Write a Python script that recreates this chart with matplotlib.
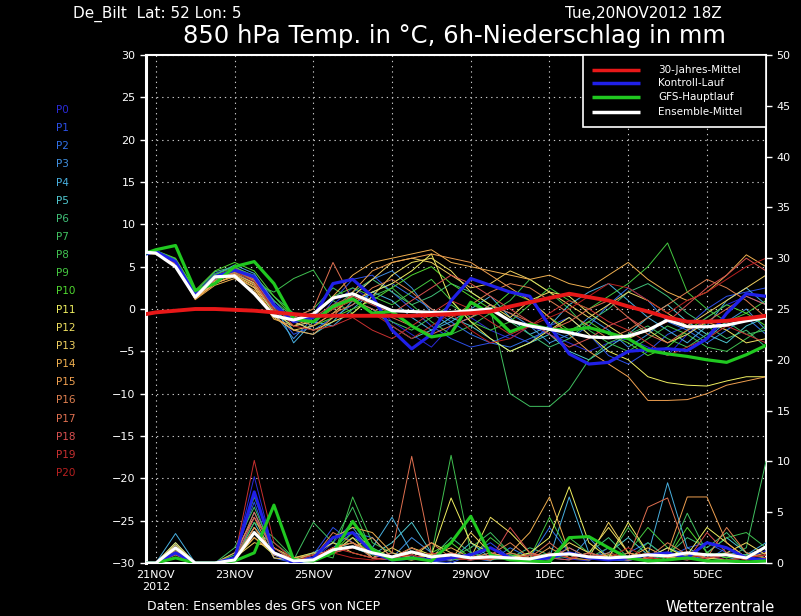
import matplotlib
matplotlib.use("Agg")
import matplotlib.pyplot as plt
from matplotlib.patches import Rectangle

# hours after 20NOV2012 18Z
hours = [0, 6, 18, 30, 42, 54, 66, 78, 90, 102, 114, 126, 138, 150, 162, 174, 186,
         198, 210, 222, 234, 246, 258, 270, 282, 294, 306, 318, 330, 342, 354, 366, 378]

date_hours = [6, 54, 102, 150, 198, 246, 294, 342]
date_labels = ["21NOV\n2012", "23NOV", "25NOV", "27NOV", "29NOV", "1DEC", "3DEC", "5DEC"]

member_names = ["P%d" % i for i in range(21)]
member_colors = ["#2a2ad8", "#2c50e8", "#3070e8", "#4090e0", "#48b0e0", "#50c8d0",
                 "#40c078", "#40c060", "#40c050", "#44c840", "#50d830", "#f0f060",
                 "#f0e060", "#f0d060", "#f0b050", "#f0a050", "#e08050", "#e07050",
                 "#d85050", "#c83030", "#b82020"]

# 850 hPa temperature of the members (deg C)
temp_p0 = [6.5, 6.8, 5.5, 1.5, 3.8, 4.5, 3.0, 0.5, -2.0, -1.5, 0.5, 2.5, 1.0, -1.5, -3.0, -4.5, -2.0, -1.0, -2.5, -3.5, -2.0, -3.0, -4.0, -5.0, -4.0, -3.5, -4.5, -5.5, -3.0, -1.0, 0.5, 1.5, 0.5]
temp_p1 = [6.5, 6.9, 5.8, 1.8, 4.2, 5.0, 3.5, 0.0, -3.0, -2.0, 1.0, 3.5, 4.0, 2.0, 0.0, -2.0, -3.5, -4.5, -4.0, -3.0, -4.0, -2.0, -1.0, -3.0, -5.5, -6.5, -5.0, -3.0, -2.0, 0.0, 1.5, 2.0, 2.5]
temp_p2 = [6.5, 6.7, 5.6, 1.6, 3.5, 4.8, 4.0, 1.0, -1.5, -2.5, -1.0, 0.5, 2.0, 3.0, 1.5, 0.0, -1.5, -3.0, -4.0, -4.5, -3.5, -2.5, -3.5, -2.0, 0.5, 2.5, 1.0, -1.5, -2.5, -4.0, -2.5, -1.0, -3.0]
temp_p3 = [6.5, 6.6, 5.4, 1.4, 3.2, 4.6, 3.2, -0.5, -3.5, -1.0, 0.0, 1.5, 3.5, 4.5, 2.5, -0.5, -2.0, -1.0, 0.5, -0.5, -2.0, -4.0, -3.0, -1.0, -2.5, -4.5, -3.0, -1.0, -2.0, -3.5, -1.5, 0.0, -2.5]
temp_p4 = [6.5, 6.8, 5.7, 1.7, 4.0, 5.2, 4.2, 0.8, -4.0, -1.5, -2.0, 0.0, 2.0, 1.0, -1.0, -2.5, -1.5, 0.0, 1.5, -1.0, -3.0, -2.0, 0.5, 2.0, 3.0, 1.0, -1.0, -2.5, -4.0, -2.0, 1.0, 2.5, 0.5]
temp_p5 = [6.5, 6.7, 5.5, 1.5, 3.6, 4.4, 3.6, 0.2, -2.5, -3.0, -1.5, 1.0, 0.0, -2.0, -3.5, -2.5, -1.0, -2.0, -3.5, -5.0, -4.0, -3.0, -5.0, -6.0, -4.5, -3.0, -1.0, 0.5, -1.5, -3.0, -4.0, -2.0, -1.0]
temp_p6 = [6.5, 6.9, 5.9, 2.0, 4.4, 5.0, 3.8, 1.5, -0.5, -1.0, 0.0, 2.0, 3.5, 2.0, 0.5, 1.5, 3.0, 2.0, 0.5, -1.5, -3.0, -4.5, -3.5, -1.5, 0.0, 2.0, 3.0, 1.5, -0.5, -2.0, -3.5, -2.5, -4.5]
temp_p7 = [6.5, 6.8, 5.6, 1.6, 3.9, 4.7, 3.3, 1.0, -1.0, 0.0, 2.5, 1.0, -0.5, -1.5, -2.5, -1.0, 0.5, -1.0, 0.0, -10.0, -11.5, -11.5, -9.5, -6.0, -4.0, -3.0, -2.0, -3.5, -4.5, -3.0, -1.5, -3.0, -2.5]
temp_p8 = [6.5, 6.7, 5.5, 1.5, 3.4, 4.3, 3.0, 2.0, 3.6, 4.6, 1.0, -0.5, 1.5, 2.5, 0.5, -1.5, -3.0, -2.0, -0.5, 1.0, 3.5, 2.0, 0.0, -2.5, -4.0, -5.0, -3.5, -2.0, -3.0, -4.5, -5.0, -3.5, -2.0]
temp_p9 = [6.5, 6.8, 5.7, 1.8, 4.1, 4.9, 3.9, 0.5, -1.5, -0.5, 1.5, 2.5, 1.5, 0.5, 2.0, 3.5, 1.0, -1.5, -2.5, -1.5, 0.5, 2.5, 1.0, 0.0, 1.5, 3.0, 5.0, 7.8, 2.0, 0.0, -1.5, -0.5, 1.0]
temp_p10 = [6.5, 6.9, 6.0, 2.2, 4.5, 5.5, 4.5, 1.5, -1.0, -2.0, -1.0, 0.0, 1.0, 2.5, 4.0, 5.0, 3.0, 1.5, 0.0, 2.0, 1.0, -1.0, -2.5, -1.5, -3.0, -4.0, -5.5, -4.5, -2.5, -1.0, 0.5, -0.5, -2.0]
temp_p11 = [6.5, 6.6, 5.3, 1.3, 3.0, 4.0, 2.8, -0.5, -2.0, -1.5, 0.0, 1.0, 2.0, 3.0, 4.5, 6.5, 1.0, -1.5, -3.5, -5.0, -4.0, -2.5, -1.0, -3.0, -5.0, -6.0, -8.0, -8.7, -9.0, -9.1, -8.5, -8.0, -8.0]
temp_p12 = [6.5, 6.7, 5.6, 1.4, 3.3, 4.1, 3.1, 0.0, -1.5, -2.5, -1.5, -0.5, 1.5, 4.0, 5.5, 6.0, 4.5, 2.0, 0.5, -1.0, 1.0, 2.0, 1.5, -0.5, -2.0, -3.5, -2.5, -4.0, -3.0, -1.5, -2.5, -4.0, -3.5]
temp_p13 = [6.5, 6.6, 5.4, 1.2, 3.1, 3.8, 2.5, -1.0, -2.5, -2.0, -0.5, 1.5, 3.5, 5.5, 6.0, 5.5, 4.0, 2.5, 3.0, 4.5, 3.5, 2.0, 0.5, -1.0, 0.5, 2.0, 1.0, -0.5, -2.0, -0.5, 1.0, 2.5, 4.0]
temp_p14 = [6.5, 6.5, 5.2, 1.1, 2.8, 3.6, 2.2, -1.2, -2.0, -1.0, 1.5, 4.0, 5.5, 6.0, 6.5, 7.0, 5.5, 5.0, 4.5, 4.0, 3.5, 4.0, 3.0, 2.5, 4.0, 5.5, 3.5, 2.0, 1.0, 2.0, 4.0, 6.4, 5.0]
temp_p15 = [6.5, 6.6, 5.3, 1.2, 3.0, 3.9, 2.6, -0.8, -2.5, -3.0, -1.0, 2.0, 4.5, 5.5, 6.0, 6.5, 6.0, 5.5, 4.0, 2.5, 1.0, -1.0, -3.0, -5.0, -6.5, -8.0, -10.8, -10.8, -10.7, -10.0, -9.0, -8.5, -8.0]
temp_p16 = [6.5, 6.7, 5.5, 1.5, 3.7, 4.3, 3.4, 0.3, -1.0, -2.0, -0.5, 0.5, 2.5, 3.5, 2.0, 0.0, -1.0, 0.5, 2.0, 3.0, 2.5, 1.0, -0.5, -2.0, -3.5, -2.5, -1.0, 0.5, 2.0, 3.5, 2.5, 1.0, -1.0]
temp_p17 = [6.5, 6.6, 5.4, 1.3, 3.4, 4.2, 2.9, -0.2, -1.0, 0.0, 5.5, 1.0, 0.0, -1.0, -2.0, -3.0, -2.0, -1.0, 0.5, -0.5, -1.5, -2.5, -1.5, 0.0, 1.0, -1.0, -3.0, -4.0, -2.5, -1.5, 0.0, 1.5, 0.5]
temp_p18 = [6.5, 6.7, 5.6, 1.6, 3.8, 4.6, 3.5, 0.6, -1.5, -1.0, 0.5, 1.5, 0.5, -0.5, 1.0, 2.5, 4.0, 3.0, 1.5, 0.0, -1.5, -3.0, -4.5, -3.5, -2.0, -1.0, -2.5, -1.5, 0.5, 2.5, 4.0, 6.0, 4.5]
temp_p19 = [6.5, 6.8, 5.7, 1.7, 3.9, 4.8, 3.7, 0.4, -2.0, -2.5, -2.0, -1.0, -2.5, -3.5, -2.0, -0.5, 1.0, 0.0, -1.5, -3.0, -2.0, -0.5, 1.0, 0.0, -1.5, -2.5, -4.0, -5.5, -4.5, -3.5, -2.0, -3.0, -4.0]
temp_p20 = [6.5, 6.7, 5.5, 1.5, 3.6, 4.5, 3.2, 0.0, -1.2, -1.5, 0.0, 1.0, -0.5, -2.0, -3.5, -2.0, -0.5, -2.5, -4.0, -3.5, -2.0, -1.0, 0.0, 1.5, 3.0, 2.5, 1.0, -0.5, 1.0, 2.0, 3.5, 5.0, 6.0]

# 6h precipitation of the members (mm)
prec_p0 = [0, 0, 1.2, 0, 0, 0.5, 8.5, 1.0, 0, 0.3, 2.0, 4.0, 1.5, 0.5, 0.8, 0.3, 0.2, 1.0, 0.5, 0.3, 0.5, 1.0, 0.4, 0.2, 1.5, 0.5, 0.3, 1.0, 0.5, 0.8, 0.3, 0.5, 1.2]
prec_p1 = [0, 0, 1.5, 0, 0, 0.8, 6.0, 0.5, 0, 0.8, 3.5, 2.0, 0.5, 1.0, 0.5, 0.2, 0, 0.8, 2.0, 0.5, 0.2, 0.5, 1.5, 0.5, 0.3, 0.2, 0.8, 0.5, 1.5, 2.0, 1.0, 0.5, 0.8]
prec_p2 = [0, 0, 2.0, 0, 0, 0.3, 4.5, 1.5, 0.2, 0.5, 1.5, 3.0, 2.5, 0.5, 1.0, 0.5, 0.3, 0.5, 0.2, 1.5, 0.5, 3.5, 1.0, 0.5, 0.3, 1.0, 2.0, 0.5, 0.8, 0.3, 1.5, 0.5, 0.3]
prec_p3 = [0, 0, 1.8, 0, 0, 0.5, 5.0, 0.8, 0, 0.2, 2.5, 3.5, 1.0, 0.5, 2.5, 1.0, 0.5, 0.3, 1.5, 0.5, 0.8, 0.5, 0.3, 2.5, 0.5, 0.3, 0.5, 1.5, 0.8, 0.5, 0.3, 0.8, 1.5]
prec_p4 = [0, 0, 2.9, 0, 0, 0.5, 3.5, 1.0, 0.3, 0.5, 1.0, 2.5, 1.5, 4.5, 1.0, 0.5, 0.3, 2.0, 0.5, 0.3, 1.0, 0.5, 6.5, 1.0, 0.5, 0.3, 0.8, 7.9, 1.5, 0.5, 1.0, 0.8, 2.0]
prec_p5 = [0, 0, 1.5, 0, 0, 0.3, 4.0, 0.5, 0.2, 1.0, 2.0, 1.5, 0.8, 2.0, 4.0, 1.0, 0.5, 0.3, 0.5, 0.8, 0.5, 0.3, 1.0, 0.5, 1.0, 2.5, 0.8, 0.5, 0.3, 1.0, 2.5, 1.0, 0.5]
prec_p6 = [0, 0, 1.0, 0, 0, 1.0, 3.0, 2.0, 0.5, 0.3, 1.5, 2.0, 0.5, 0.3, 1.5, 0.5, 2.5, 1.0, 0.3, 0.5, 1.5, 0.8, 0.5, 1.0, 2.5, 0.5, 0.3, 0.8, 2.5, 1.5, 3.0, 1.0, 0.5]
prec_p7 = [0, 0, 0.8, 0, 0, 1.5, 5.5, 1.0, 0.3, 4.0, 2.0, 5.5, 1.0, 0.5, 0.3, 0.8, 0.5, 1.5, 3.0, 1.0, 0.5, 0.3, 0.8, 0.5, 1.5, 0.3, 2.0, 0.5, 4.9, 1.0, 0.5, 1.5, 10.0]
prec_p8 = [0, 0, 1.2, 0, 0, 0.5, 4.0, 2.5, 0.5, 1.0, 0.5, 6.5, 2.0, 1.0, 0.5, 0.8, 10.6, 1.0, 0.5, 0.3, 1.0, 0.5, 2.5, 1.0, 0.5, 3.5, 1.0, 0.3, 0.5, 1.0, 2.5, 3.0, 1.5]
prec_p9 = [0, 0, 1.3, 0, 0, 0.8, 6.5, 1.5, 0.3, 0.5, 1.0, 2.5, 0.8, 0.5, 1.5, 0.5, 0.3, 0.5, 2.5, 1.0, 0.5, 4.5, 1.0, 0.5, 0.3, 1.0, 3.5, 1.5, 0.5, 0.8, 1.0, 0.5, 0.3]
prec_p10 = [0, 0, 0.5, 0, 0, 0.5, 3.0, 1.0, 0.3, 0.2, 1.0, 3.0, 1.5, 0.5, 0.3, 1.0, 2.0, 0.5, 0.3, 0.8, 0.5, 1.0, 0.5, 0.3, 0.8, 0.5, 1.0, 0.5, 3.5, 1.0, 0.5, 0.8, 0.5]
prec_p11 = [0, 0, 2.0, 0, 0, 0.3, 2.5, 0.8, 0.2, 0.5, 1.5, 2.0, 1.0, 0.5, 1.5, 0.8, 6.4, 2.0, 1.0, 0.5, 1.0, 2.5, 7.5, 2.0, 0.5, 4.0, 1.0, 0.5, 0.8, 3.5, 2.0, 0.5, 0.3]
prec_p12 = [0, 0, 1.5, 0, 0, 0.2, 3.5, 1.0, 0.3, 0.8, 2.0, 1.0, 0.5, 1.5, 0.5, 2.0, 1.0, 0.5, 4.5, 3.0, 1.0, 0.5, 2.0, 1.0, 3.5, 1.0, 0.5, 1.5, 0.5, 0.3, 1.0, 2.0, 0.8]
prec_p13 = [0, 0, 1.8, 0, 0, 0.5, 2.0, 1.5, 0.5, 1.0, 1.0, 2.5, 0.5, 0.3, 1.0, 0.5, 0.3, 3.0, 1.0, 0.5, 0.8, 0.5, 1.0, 0.5, 4.0, 1.0, 0.5, 0.3, 1.0, 0.5, 0.3, 0.5, 0.3]
prec_p14 = [0, 0, 1.4, 0, 0, 1.0, 4.5, 0.5, 0.3, 0.5, 2.5, 3.5, 3.0, 1.0, 0.5, 0.8, 1.5, 0.5, 0.3, 1.0, 3.0, 6.5, 1.0, 0.5, 0.8, 0.5, 1.5, 0.5, 1.0, 0.5, 0.8, 0.5, 1.0]
prec_p15 = [0, 0, 1.0, 0, 0, 0.5, 2.5, 1.0, 0.5, 0.8, 1.0, 1.5, 2.5, 0.5, 0.3, 0.5, 0.8, 0.5, 1.0, 0.5, 0.3, 1.5, 0.5, 1.0, 0.5, 0.3, 0.5, 1.0, 6.5, 6.5, 2.0, 0.5, 0.3]
prec_p16 = [0, 0, 1.2, 0, 0, 0.3, 3.5, 0.8, 0.2, 0.5, 3.0, 2.0, 1.0, 0.5, 0.8, 2.0, 0.5, 0.3, 0.8, 2.0, 0.5, 0.3, 1.5, 0.5, 0.3, 1.0, 0.5, 2.0, 0.8, 0.5, 3.5, 1.0, 0.5]
prec_p17 = [0, 0, 1.0, 0, 0, 0.5, 5.0, 1.0, 0.3, 0.5, 1.5, 2.0, 0.5, 1.0, 10.5, 1.0, 0.5, 0.8, 0.3, 1.0, 0.5, 2.0, 0.5, 0.3, 1.0, 0.5, 5.5, 6.4, 1.0, 0.5, 0.8, 0.3, 0.5]
prec_p18 = [0, 0, 0.8, 0, 0, 0.2, 4.5, 1.5, 0.2, 0.3, 1.0, 1.5, 1.0, 0.5, 1.5, 0.5, 1.0, 0.5, 0.3, 3.5, 1.0, 0.5, 0.3, 1.0, 0.5, 0.3, 0.5, 0.8, 0.3, 3.0, 1.0, 0.5, 0.8]
prec_p19 = [0, 0, 1.1, 0, 0, 0.5, 10.1, 2.0, 0.3, 0.5, 1.5, 1.0, 0.5, 0.3, 0.5, 1.0, 0.5, 0.3, 0.5, 0.3, 0.8, 0.5, 1.0, 0.5, 0.3, 0.5, 1.0, 0.5, 0.3, 0.5, 0.8, 0.3, 0.5]
prec_p20 = [0, 0, 0.9, 0, 0, 0.3, 7.0, 1.0, 0.2, 0.8, 1.0, 0.5, 0.3, 0.5, 0.8, 0.3, 0.5, 0.3, 0.8, 0.5, 0.3, 1.0, 0.5, 0.8, 0.5, 1.5, 0.5, 0.3, 0.5, 0.8, 0.3, 0.5, 0.8]

# thick lines
temp_control = [6.5, 6.8, 5.6, 1.6, 3.8, 4.6, 3.8, 0.5, -1.5, -1.0, 3.0, 3.5, 1.5, -2.5, -4.7, -3.0, 1.0, 3.6, 2.8, 2.0, 1.5, -2.0, -5.3, -6.5, -6.3, -5.0, -4.8, -4.7, -4.9, -3.5, -0.5, 1.8, 1.5]
temp_gfs = [6.6, 7.0, 7.5, 2.2, 3.0, 5.0, 5.6, 3.0, -1.2, -1.5, 0.3, 1.2, -0.5, -0.3, -2.0, -3.3, -2.9, 0.8, -0.5, -2.7, -1.8, -2.4, -2.5, -2.2, -2.8, -3.5, -4.9, -5.3, -5.6, -6.0, -6.3, -5.4, -4.3]
temp_mean = [6.7, 6.6, 5.0, 1.4, 3.8, 3.9, 1.8, -0.8, -1.3, -0.6, 1.3, 1.8, 0.8, -0.2, -0.3, -0.4, -0.4, -0.2, 0.0, -1.4, -2.0, -2.4, -2.8, -3.3, -3.4, -3.2, -2.5, -1.3, -2.1, -2.1, -1.9, -1.4, -1.0]
temp_clim = [-0.6, -0.4, -0.2, 0.0, 0.0, -0.1, -0.2, -0.4, -0.6, -0.8, -0.8, -0.8, -0.8, -0.8, -0.8, -0.7, -0.6, -0.5, -0.3, 0.3, 0.8, 1.3, 1.8, 1.4, 1.0, 0.3, -0.3, -1.0, -1.5, -1.5, -1.4, -1.1, -0.8]

prec_control = [0, 0, 1.0, 0, 0, 0.5, 7.0, 1.0, 0, 0.5, 2.5, 3.0, 1.0, 0.3, 0.5, 0.3, 0.5, 0.8, 1.5, 0.5, 0.3, 0.5, 1.0, 0.5, 0.3, 0.5, 0.8, 1.0, 0.5, 2.0, 1.5, 0.5, 0.3]
prec_gfs = [0, 0, 0.5, 0, 0, 0.2, 1.0, 5.7, 0.3, 0.2, 1.0, 4.1, 1.3, 0.3, 0.5, 0.2, 2.0, 4.6, 0.8, 0.3, 0.2, 0.1, 2.5, 2.6, 1.5, 0.5, 0.2, 0.3, 0.5, 0.2, 0.2, 0.1, 0.2]
prec_mean = [0, 0, 1.5, 0, 0, 0.3, 3.0, 1.0, 0.2, 0.3, 1.3, 1.6, 1.0, 0.6, 1.1, 0.6, 0.8, 0.5, 0.6, 0.5, 0.4, 0.8, 0.9, 0.6, 0.5, 0.6, 0.8, 0.7, 1.0, 0.8, 0.8, 0.5, 1.6]

temp_members = [temp_p0, temp_p1, temp_p2, temp_p3, temp_p4, temp_p5, temp_p6, temp_p7,
                temp_p8, temp_p9, temp_p10, temp_p11, temp_p12, temp_p13, temp_p14,
                temp_p15, temp_p16, temp_p17, temp_p18, temp_p19, temp_p20]
prec_members = [prec_p0, prec_p1, prec_p2, prec_p3, prec_p4, prec_p5, prec_p6, prec_p7,
                prec_p8, prec_p9, prec_p10, prec_p11, prec_p12, prec_p13, prec_p14,
                prec_p15, prec_p16, prec_p17, prec_p18, prec_p19, prec_p20]

legend_labels = ["30-Jahres-Mittel", "Kontroll-Lauf", "GFS-Hauptlauf", "Ensemble-Mittel"]
legend_colors = ["#e81818", "#2020e8", "#20c820", "#ffffff"]

plt.rcParams["font.family"] = "DejaVu Sans"

fig = plt.figure(figsize=(8.01, 6.16), dpi=100, facecolor="black")
ax = fig.add_axes([146 / 801, 1 - 563 / 616, 620 / 801, 508 / 616])
ax.set_facecolor("black")
ax.set_xlim(0, 378)
ax.set_ylim(-30, 30)
ax.set_yticks(range(-30, 31, 5))
ax.set_xticks(date_hours)
ax.set_xticklabels(date_labels)
ax.grid(True, color="#c8c8c8", linestyle=(0, (1.2, 3.5)), linewidth=0.8)
ax.tick_params(colors="white", labelsize=8, length=4, width=1, direction="out")
ax.tick_params(axis="x", length=0, pad=5)
for side in ["left", "right", "top", "bottom"]:
    ax.spines[side].set_color("white")
    ax.spines[side].set_linewidth(1.5)
ax.spines["left"].set_linewidth(2.2)

ax2 = ax.twinx()
ax2.set_ylim(0, 50)
ax2.set_yticks(range(0, 51, 5))
ax2.tick_params(colors="white", labelsize=8, length=4, width=1, direction="out")
for side in ["left", "right", "top", "bottom"]:
    ax2.spines[side].set_visible(False)

# members
for t, c in zip(temp_members, member_colors):
    ax.plot(hours, t, color=c, linewidth=0.7, zorder=2)
for p, c in zip(prec_members, member_colors):
    ax2.plot(hours, p, color=c, linewidth=0.7, zorder=2)

# thick lines
ax.plot(hours, temp_control, color=legend_colors[1], linewidth=2.3, zorder=3)
ax.plot(hours, temp_gfs, color=legend_colors[2], linewidth=2.3, zorder=4)
ax.plot(hours, temp_mean, color=legend_colors[3], linewidth=2.3, zorder=5)
ax.plot(hours, temp_clim, color=legend_colors[0], linewidth=2.8, zorder=6)
ax2.plot(hours, prec_control, color=legend_colors[1], linewidth=2.2, zorder=3)
ax2.plot(hours, prec_gfs, color=legend_colors[2], linewidth=2.2, zorder=4)
ax2.plot(hours, prec_mean, color=legend_colors[3], linewidth=2.2, zorder=5)

# legend box
box = Rectangle((0.705, 0.858), 0.295, 0.142, transform=ax2.transAxes,
                facecolor="black", edgecolor="white", linewidth=1.2, zorder=10)
ax2.add_patch(box)
legend_y = [0.970, 0.944, 0.917, 0.888]
for lab, col, ly in zip(legend_labels, legend_colors, legend_y):
    ax2.plot([0.719, 0.797], [ly, ly], color=col, linewidth=2.5,
             transform=ax2.transAxes, zorder=11, solid_capstyle="butt")
    ax2.text(0.826, ly, lab, color="white", fontsize=7.5, va="center", ha="left",
             transform=ax2.transAxes, zorder=11)

# member labels on the left
for i, (name, col) in enumerate(zip(member_names, member_colors)):
    fig.text(56 / 801, 1 - (110 + 18.15 * i) / 616, name, color=col,
             fontsize=7.5, va="center", ha="left")

# titles
fig.text(73 / 801, 1 - 14 / 616, "De_Bilt  Lat: 52 Lon: 5", color="white",
         fontsize=11, va="center", ha="left")
fig.text(722 / 801, 1 - 14 / 616, "Tue,20NOV2012 18Z", color="white",
         fontsize=11, va="center", ha="right")
fig.text(454 / 801, 1 - 36 / 616, "850 hPa Temp. in °C, 6h-Niederschlag in mm",
         color="white", fontsize=17.5, va="center", ha="center")
fig.text(147 / 801, 1 - 607 / 616, "Daten: Ensembles des GFS von NCEP", color="white",
         fontsize=9, va="center", ha="left")
fig.text(775 / 801, 1 - 607 / 616, "Wetterzentrale", color="white",
         fontsize=10.5, va="center", ha="right")

fig.savefig("out.png", dpi=100, facecolor="black")
